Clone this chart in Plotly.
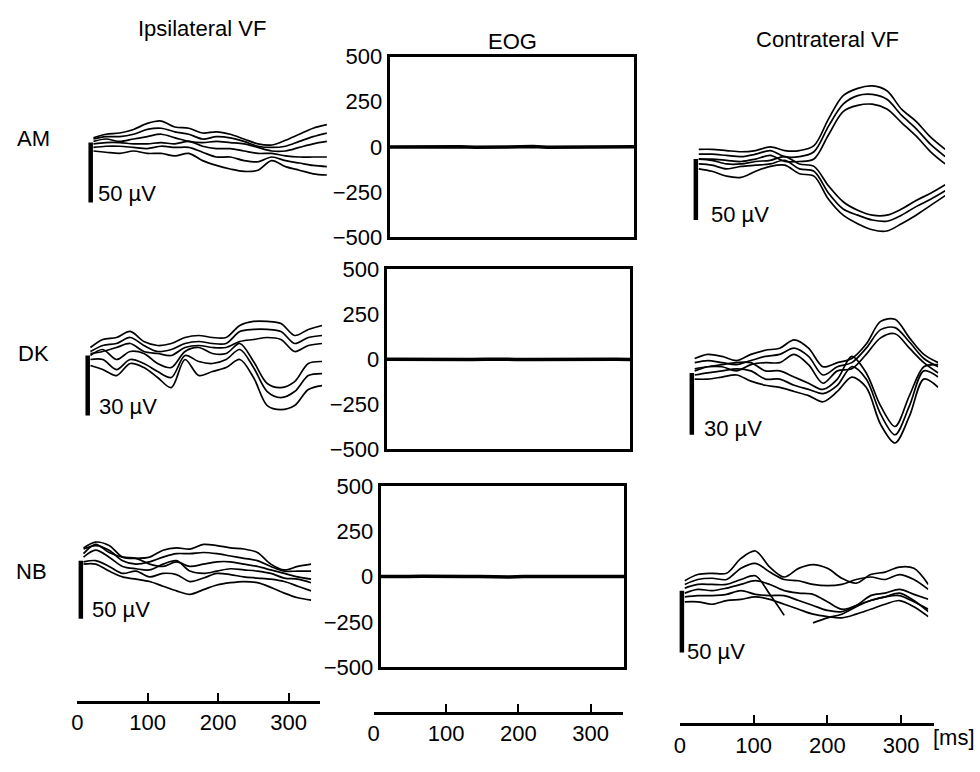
import plotly.graph_objects as go

# ---------------- DATA ----------------
t_ms = [22, 40, 60, 80, 100, 120, 140, 160, 180, 200, 220, 240, 260, 280, 300, 320, 340, 360]

subjects = ["AM", "DK", "NB"]
column_titles = ["Ipsilateral VF", "EOG", "Contrateral VF"]
scale_bar_uv = [50, 30, 50]          # per subject row
scale_bar_t = 18                     # ms
eog_ticks = [-500, -250, 0, 250, 500]
time_ticks = [0, 100, 200, 300]
time_unit = "[ms]"

# Ipsilateral VF (µV)
am_ipsi = [
    [4, 7, 8, 11, 16, 18, 13, 12, 8, 9, 7, 3, -1, -2, 2, 7, 12, 15],
    [3, 5, 5, 7, 11, 12, 9, 7, 3, 5, 4, 1, -3, -4, -3, 1, 5, 8],
    [1, 3, 1, 3, 5, 7, 4, 1, 0, 1, 0, -1, -4, -7, -7, -4, -1, 1],
    [-1, 0, 0, -1, -1, 0, -1, 1, -3, -5, -5, -7, -9, -9, -11, -12, -12, -12],
    [-4, -3, -3, -4, -5, -3, -4, -4, -8, -12, -12, -15, -16, -12, -15, -17, -19, -20],
    [-7, -8, -9, -7, -9, -9, -11, -9, -15, -19, -22, -24, -23, -15, -20, -23, -26, -27],
]
dk_ipsi = [
    [4, 8, 9, 12, 7, 5, 6, 9, 10, 9, 9, 15, 17, 17, 16, 10, 13, 15],
    [2, 5, 6, 9, 5, 2, 3, 6, 7, 6, 6, 12, 13, 13, 12, 6, 9, 10],
    [1, 2, 4, 6, 2, 1, 0, 4, 5, 4, 4, 7, 8, 9, 8, 2, 5, 6],
    [0, 3, -2, 2, 1, -4, -6, 2, 4, 1, 1, 6, -3, -14, -16, -13, -4, -3],
    [-2, -2, -7, -2, -4, -8, -11, 0, -3, -4, -2, 3, -6, -18, -21, -18, -10, -9],
    [-5, -7, -10, -4, -6, -11, -16, -2, -10, -8, -6, -2, -11, -25, -27, -25, -17, -15],
]
nb_ipsi = [
    [11, 16, 13, 3, 2, 3, 9, 11, 10, 14, 13, 11, 10, 7, -3, -8, -5, -3],
    [10, 13, 9, 0, -3, -1, 3, 6, 6, 7, 6, 4, 2, 0, -5, -9, -9, -9],
    [6, 14, 7, 3, 2, -3, -5, -1, -5, -3, -1, -1, -3, -5, -8, -11, -14, -16],
    [3, 9, 3, -5, -7, -8, -3, 0, -9, -11, -9, -7, -8, -9, -11, -15, -16, -19],
    [-1, 0, -5, -11, -9, -14, -11, -12, -18, -15, -11, -12, -14, -15, -16, -18, -22, -26],
    [-3, -3, -9, -14, -16, -18, -22, -26, -29, -25, -21, -19, -18, -19, -23, -28, -32, -34],
]

# Contralateral VF (µV)
am_contra = [
    [8, 8, 7, 6, 7, 10, 7, 7, 11, 33, 52, 58, 60, 56, 41, 31, 18, 8],
    [4, 4, 3, 2, 4, 7, 2, 2, 6, 27, 45, 52, 53, 49, 36, 25, 12, 2],
    [0, 0, -1, -2, 0, 3, -2, -2, 0, 20, 39, 44, 45, 41, 30, 19, 6, -4],
    [0, -1, -4, -4, -2, -1, 2, -4, -6, -22, -35, -42, -46, -46, -41, -34, -28, -21],
    [-4, -5, -8, -6, -5, -4, -1, -8, -10, -28, -41, -46, -50, -51, -46, -39, -33, -26],
    [-8, -10, -14, -15, -10, -6, -5, -12, -14, -33, -46, -53, -58, -59, -53, -46, -38, -30],
]
dk_contra = [
    [7, 9, 8, 6, 9, 11, 12, 16, 12, 3, 5, 7, 14, 25, 26, 17, 9, 5],
    [5, 6, 5, 4, 6, 8, 9, 12, 8, -1, 3, 5, 12, 21, 22, 15, 7, 3],
    [2, 3, 3, 1, 4, 5, 5, 9, 4, -5, 1, 2, 9, 17, 19, 12, 5, 0],
    [1, 3, 4, 5, 5, 1, 1, -2, -5, -8, -3, 8, 0, -16, -26, -11, 3, 4],
    [-1, 0, 1, 2, 1, -3, -3, -6, -8, -10, -6, 3, -3, -20, -30, -16, 1, -2],
    [-3, -3, -2, -1, -4, -6, -7, -9, -11, -14, -9, -2, -7, -25, -34, -21, -3, -7],
]
nb_contra = [
    [8, 13, 14, 14, 26, 32, 19, 11, 18, 21, 18, 10, 6, 13, 15, 19, 18, 5],
    [5, 9, 10, 9, 18, 22, 15, 9, 8, 5, 4, 5, 9, 11, 9, 13, 9, 1],
    [2, 5, 5, 5, 9, 12, -3, -20, None, -26, -22, -19, -13, -8, -5, -2, -8, -17],
    [-2, 1, 0, 2, 5, 8, 5, 0, -2, -3, -9, -15, -12, -4, -2, 1, -3, -7],
    [-5, -4, -4, -3, 0, -3, -4, -4, -8, -12, -16, -17, -12, -8, -5, -4, -9, -15],
    [-9, -9, -11, -8, -7, -5, -7, -11, -15, -19, -21, -22, -19, -15, -11, -8, -13, -21],
]

# EOG (µV)
eog_am = [0, 1, -1, 0, 2, 1, -2, 0, 1, 3, 2, -1, 0, 1, -2, -1, 0, 1]
eog_dk = [1, 0, -1, 1, 0, -2, -1, 1, 2, 0, -1, 0, 1, -1, 0, 2, 1, 0]
eog_nb = [0, -1, 1, 2, 0, -1, 0, 1, -1, -2, 0, 1, 0, -1, 1, 0, -1, 0]

ipsi_data = [am_ipsi, dk_ipsi, nb_ipsi]
contra_data = [am_contra, dk_contra, nb_contra]
eog_data = [eog_am, eog_dk, eog_nb]

# ---------------- LAYOUT GEOMETRY (pixels) ----------------
W, H = 980, 772
FONT = "Liberation Sans, Arial, Helvetica, sans-serif"
FS = 22

def fx(px):
    return px / W

def fy(py):
    return 1 - py / H

# x0/x1: pixel positions of t=0 and t=360; y0/y1: panel top/bottom;
# ybar: pixel of 0 µV (scale bar top); ppu: pixels per µV; label offsets
ipsi_geo = [
    dict(x0=72.7, x1=322.9, y0=40, y1=250, ybar=135, ppu=1.24, ldx=5, ldy=9),
    dict(x0=69.8, x1=318.0, y0=262, y1=470, ybar=355, ppu=2.07, ldx=9, ldy=9),
    dict(x0=63.1, x1=307.1, y0=490, y1=690, ybar=567, ppu=1.20, ldx=9, ldy=9),
]
contra_geo = [
    dict(x0=680.9, x1=945.0, y0=40, y1=250, ybar=152, ppu=1.26, ldx=13, ldy=6),
    dict(x0=677.0, x1=938.0, y0=262, y1=470, ybar=373, ppu=2.13, ldx=10, ldy=6),
    dict(x0=667.0, x1=928.0, y0=490, y1=690, ybar=598, ppu=1.28, ldx=3, ldy=1),
]
eog_geo = [
    dict(xl=386, xr=632, yt=46, yb=233),
    dict(xl=383, xr=628, yt=266, yb=452),
    dict(xl=377, xr=622, yt=490, yb=677),
]
time_axis_geo = [
    dict(x0=71.7, x1=316.3, y=712),
    dict(x0=370.0, x1=621.0, y=723),
    dict(x0=678.0, x1=934.0, y=735),
]

fig = go.Figure()
layout = {}
annotations = []
k = 0

def axis_names(k):
    s = "" if k == 1 else str(k)
    return "x" + s, "y" + s, "xaxis" + s, "yaxis" + s

def add_vf_panel(lines, geo, bar_uv):
    global k
    k += 1
    xr, yr, xk, yk = axis_names(k)
    layout[xk] = dict(domain=[fx(geo["x0"]), fx(geo["x1"])], range=[0, 360],
                      visible=False, anchor=yr)
    layout[yk] = dict(domain=[fy(geo["y1"]), fy(geo["y0"])],
                      range=[(geo["ybar"] - geo["y1"]) / geo["ppu"],
                             (geo["ybar"] - geo["y0"]) / geo["ppu"]],
                      visible=False, anchor=xr)
    for ln in lines:
        fig.add_trace(go.Scatter(x=t_ms, y=ln, mode="lines",
                                 line=dict(color="black", width=1.7, shape="spline", smoothing=0.9),
                                 connectgaps=False, xaxis=xr, yaxis=yr,
                                 hoverinfo="skip", showlegend=False))
    fig.add_trace(go.Scatter(x=[scale_bar_t, scale_bar_t], y=[0, -bar_uv], mode="lines",
                             line=dict(color="black", width=4.5), xaxis=xr, yaxis=yr,
                             hoverinfo="skip", showlegend=False))
    annotations.append(dict(x=scale_bar_t, y=-bar_uv, xref=xr, yref=yr,
                            text=f"{bar_uv} µV", showarrow=False, xanchor="left",
                            yanchor="middle", xshift=geo["ldx"], yshift=geo["ldy"],
                            font=dict(family=FONT, size=FS, color="black")))

def add_eog_panel(vals, geo):
    global k
    k += 1
    xr, yr, xk, yk = axis_names(k)
    layout[xk] = dict(domain=[fx(geo["xl"]), fx(geo["xr"])], range=[22, 360],
                      showline=True, mirror=True, linecolor="black", linewidth=3,
                      ticks="", showticklabels=False, showgrid=False, zeroline=False,
                      anchor=yr)
    layout[yk] = dict(domain=[fy(geo["yb"]), fy(geo["yt"])], range=[-500, 500],
                      tickvals=eog_ticks, showline=True, mirror=True, linecolor="black",
                      linewidth=3, ticks="", showgrid=False, zeroline=False,
                      tickfont=dict(family=FONT, size=FS, color="black"), anchor=xr)
    fig.add_trace(go.Scatter(x=t_ms, y=vals, mode="lines",
                             line=dict(color="black", width=3.5), xaxis=xr, yaxis=yr,
                             hoverinfo="skip", showlegend=False))

def add_time_axis(geo):
    global k
    k += 1
    xr, yr, xk, yk = axis_names(k)
    yb = fy(geo["y"])
    layout[xk] = dict(domain=[fx(geo["x0"]), fx(geo["x1"])], range=[0, 345],
                      tickvals=time_ticks, ticks="inside", ticklen=8, tickwidth=2,
                      tickcolor="black", showline=True, linecolor="black", linewidth=3,
                      showgrid=False, zeroline=False,
                      tickfont=dict(family=FONT, size=FS, color="black"), anchor=yr)
    layout[yk] = dict(domain=[yb, yb + 0.03], range=[0, 1], visible=False, anchor=xr)
    fig.add_trace(go.Scatter(x=[0, 345], y=[0.5, 0.5], mode="lines", opacity=0,
                             line=dict(width=1, color="white"), xaxis=xr, yaxis=yr,
                             hoverinfo="skip", showlegend=False))

for i in range(3):
    add_vf_panel(ipsi_data[i], ipsi_geo[i], scale_bar_uv[i])
    add_eog_panel(eog_data[i], eog_geo[i])
    add_vf_panel(contra_data[i], contra_geo[i], scale_bar_uv[i])
for g in time_axis_geo:
    add_time_axis(g)

def paper_text(text, cx, cy, xanchor="center"):
    annotations.append(dict(x=fx(cx), y=fy(cy), xref="paper", yref="paper", text=text,
                            showarrow=False, xanchor=xanchor, yanchor="middle",
                            font=dict(family=FONT, size=FS, color="black")))

title_pos = [(197, 17), (510, 31), (827, 28)]
for txt, (cx, cy) in zip(column_titles, title_pos):
    paper_text(txt, cx, cy)
row_label_pos = [(28, 131), (28, 353), (26, 578)]
for txt, (cx, cy) in zip(subjects, row_label_pos):
    paper_text(txt, cx, cy)
paper_text(time_unit, 954, 750)

fig.update_layout(width=W, height=H, margin=dict(l=0, r=0, t=0, b=0),
                  paper_bgcolor="white", plot_bgcolor="rgba(0,0,0,0)",
                  showlegend=False, annotations=annotations,
                  font=dict(family=FONT, size=FS, color="black"), **layout)

fig.write_html("out.html", config={"displayModeBar": False},
               post_script="document.body.style.margin='0';document.body.style.overflow='hidden';")
